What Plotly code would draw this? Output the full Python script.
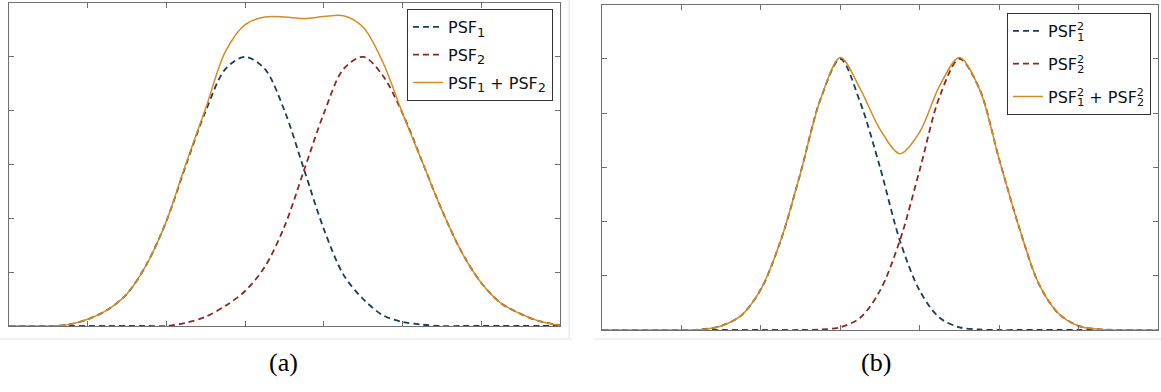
import plotly.graph_objects as go

# Sample positions shared by every curve
x = [0.0, 0.25, 0.5, 0.75, 1.0, 1.25, 1.5, 1.75, 2.0, 2.25, 2.5, 2.75, 3.0, 3.25,
     3.5, 3.75, 4.0, 4.25, 4.5, 4.75, 5.0, 5.25, 5.5, 5.75, 6.0, 6.25, 6.5, 6.75, 7.0]

# (a) two point spread functions and their sum
psf1_a = [0, 0, 0, 0.005, 0.025, 0.06, 0.12, 0.23, 0.39, 0.60, 0.80, 0.955, 1.0, 0.955,
          0.80, 0.58, 0.36, 0.19, 0.10, 0.04, 0.015, 0.005, 0, 0, 0, 0, 0, 0, 0]
psf2_a = [0, 0, 0, 0, 0, 0, 0, 0, 0, 0.012, 0.035, 0.075, 0.13, 0.22,
          0.37, 0.58, 0.79, 0.955, 1.0, 0.93, 0.79, 0.61, 0.43, 0.275, 0.16, 0.085, 0.045, 0.017, 0.003]
sum_a = [0, 0, 0, 0.005, 0.025, 0.06, 0.12, 0.23, 0.39, 0.605, 0.81, 1.02, 1.12, 1.148,
         1.148, 1.142, 1.15, 1.153, 1.11, 0.98, 0.79, 0.61, 0.43, 0.275, 0.16, 0.085, 0.045, 0.017, 0.003]

# (b) squared point spread functions and their sum
psf1_b = [0, 0, 0, 0, 0, 0.002, 0.015, 0.053, 0.15, 0.33, 0.58, 0.85, 1.0, 0.84,
          0.60, 0.33, 0.145, 0.045, 0.01, 0.002, 0, 0, 0, 0, 0, 0, 0, 0, 0]
psf2_b = [0, 0, 0, 0, 0, 0, 0, 0, 0, 0, 0, 0.002, 0.01, 0.045,
          0.145, 0.33, 0.59, 0.86, 1.0, 0.89, 0.63, 0.38, 0.17, 0.06, 0.015, 0.003, 0, 0, 0]
sum_b = [0, 0, 0, 0, 0, 0.002, 0.015, 0.053, 0.15, 0.33, 0.58, 0.85, 1.005, 0.89,
         0.74, 0.65, 0.73, 0.90, 1.005, 0.89, 0.63, 0.38, 0.17, 0.06, 0.015, 0.003, 0, 0, 0]

sub = "<sub><span style='font-size:115%'>{}</span></sub>"
names_a = ["PSF" + sub.format(1), "PSF" + sub.format(2),
           "PSF" + sub.format(1) + " + PSF" + sub.format(2)]
stack = "<sup><span style='letter-spacing:-7px'>2</span></sup><sub>{}</sub>"
names_b = ["PSF" + stack.format(1), "PSF" + stack.format(2),
           "PSF" + stack.format(1) + " + PSF" + stack.format(2)]
captions = ["(a)", "(b)"]

BLUE = "#1a3f55"
RED = "#8a2a1f"
ORANGE = "#d38d22"
DASH = "6px,4px"

W, H = 1161, 392

fig = go.Figure()

panels = [
    ("x", "y", "legend", [psf1_a, psf2_a, sum_a], names_a),
    ("x2", "y2", "legend2", [psf1_b, psf2_b, sum_b], names_b),
]
for xa, ya, leg, (p1, p2, s), names in panels:
    styles = [dict(color=BLUE, width=1.8, dash=DASH),
              dict(color=RED, width=1.8, dash=DASH),
              dict(color=ORANGE, width=1.5)]
    for k, (yv, nm, ln) in enumerate(zip([p1, p2, s], names, styles)):
        fig.add_trace(go.Scatter(
            x=x, y=yv, mode="lines", name=nm, line=dict(shape="spline", smoothing=0.9, **ln),
            xaxis=xa, yaxis=ya, legend=leg, legendgroup=f"{leg}{k}",
        ))

def px_x(p):
    return p / W

def px_y(p):
    return 1 - p / H

axis_common = dict(showticklabels=False, ticks="inside", ticklen=5, tickcolor="#6f6f6f",
                   tickwidth=1, showline=True, linecolor="#6f6f6f", linewidth=1,
                   mirror="ticks", showgrid=False, zeroline=False, fixedrange=True)

legend_font = dict(family="DejaVu Sans", size=16, color="#111111")

fig.update_layout(
    width=W, height=H,
    margin=dict(l=0, r=0, t=0, b=0),
    paper_bgcolor="white", plot_bgcolor="white",
    xaxis=dict(domain=[px_x(9), px_x(560)], range=[0, 7], dtick=1, anchor="y", **axis_common),
    yaxis=dict(domain=[px_y(326), px_y(3)], range=[0, 1.2], dtick=0.2, anchor="x", **axis_common),
    xaxis2=dict(domain=[px_x(602), px_x(1158)], range=[0, 7], dtick=1, anchor="y2", **axis_common),
    yaxis2=dict(domain=[px_y(330), px_y(4.5)], range=[0, 1.2], dtick=0.2, anchor="x2", **axis_common),
    legend=dict(x=px_x(553), y=px_y(9), xanchor="right", yanchor="top",
                bgcolor="white", bordercolor="#333333", borderwidth=1,
                font=legend_font, tracegroupgap=4, itemwidth=30),
    legend2=dict(x=px_x(1151), y=px_y(13), xanchor="right", yanchor="top",
                 bgcolor="white", bordercolor="#333333", borderwidth=1,
                 font=legend_font, tracegroupgap=9, itemwidth=30),
    showlegend=True,
)

# Sub-figure captions
for cx, txt in zip([283, 876], captions):
    fig.add_annotation(x=px_x(cx), y=px_y(362), xref="paper", yref="paper", text=txt,
                       showarrow=False, xanchor="center", yanchor="middle",
                       font=dict(family="Liberation Serif", size=26, color="black"))

# Faint outlines of the two sub-figure images
edge = dict(color="#e4e4e4", width=1)
fig.add_shape(type="line", xref="paper", yref="paper", x0=0, x1=px_x(572),
              y0=px_y(339), y1=px_y(339), line=edge)
fig.add_shape(type="line", xref="paper", yref="paper", x0=px_x(569), x1=px_x(569),
              y0=px_y(0), y1=px_y(339), line=edge)
fig.add_shape(type="line", xref="paper", yref="paper", x0=px_x(593), x1=1,
              y0=px_y(339), y1=px_y(339), line=edge)

fig.write_html("out.html")
